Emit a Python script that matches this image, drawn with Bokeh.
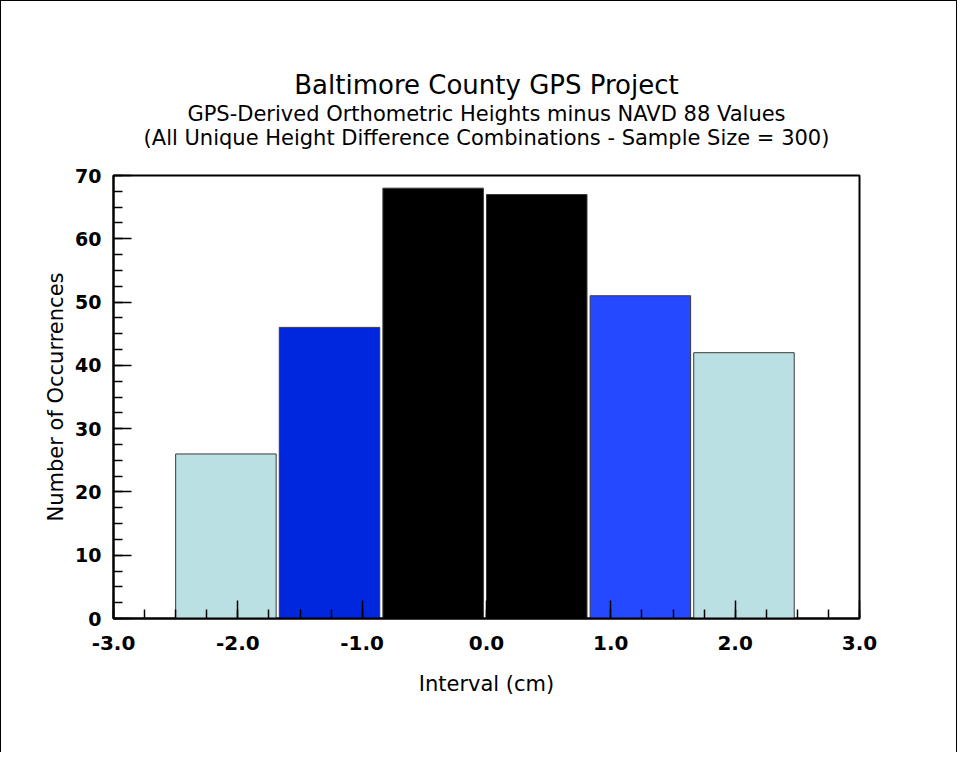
from bokeh.plotting import figure
from bokeh.models import Range1d, SingleIntervalTicker, PrintfTickFormatter, Title, ColumnDataSource
from bokeh.embed import file_html
from bokeh.resources import INLINE

# ---- data ----
bin_left = [-2.5, -5/3, -5/6, 0.0, 5/6, 5/3]
bin_width = 5/6
counts = [26, 46, 68, 67, 51, 42]
bar_colors = ["#BBE0E3", "#0027DD", "#000000", "#000000", "#2449FF", "#BBE0E3"]

title_main = "Baltimore County GPS Project"
title_sub1 = "GPS-Derived Orthometric Heights minus NAVD 88 Values"
title_sub2 = "(All Unique Height Difference Combinations - Sample Size = 300)"
x_label = "Interval (cm)"
y_label = "Number of Occurrences"

FONT = "DejaVu Sans"

src = ColumnDataSource(dict(
    left=bin_left,
    right=[b + bin_width * 0.97 for b in bin_left],
    top=counts,
    bottom=[0] * len(counts),
    color=bar_colors,
))

p = figure(width=957, height=752, output_backend="svg", toolbar_location=None,
           x_range=Range1d(-3, 3), y_range=Range1d(0, 70),
           min_border_left=112, min_border_right=99, min_border_top=174, min_border_bottom=135)

p.styles = {"border-left": "1px solid black", "border-top": "1px solid black",
            "border-right": "1px solid black"}

p.quad(left="left", right="right", top="top", bottom="bottom", fill_color="color",
       line_color="#3a3a3a", line_width=1, source=src)

p.grid.visible = False
p.outline_line_color = "black"
p.outline_line_width = 2

p.xaxis.ticker = SingleIntervalTicker(interval=1, num_minor_ticks=4)
p.yaxis.ticker = SingleIntervalTicker(interval=10, num_minor_ticks=4)
p.xaxis.formatter = PrintfTickFormatter(format="%.1f")

for ax in (p.xaxis[0], p.yaxis[0]):
    ax.axis_line_width = 2
    ax.axis_line_color = "black"
    ax.major_tick_in = 18
    ax.major_tick_out = 0
    ax.minor_tick_in = 9
    ax.minor_tick_out = 0
    ax.major_tick_line_width = 1.5
    ax.minor_tick_line_width = 1.5
    ax.major_tick_line_color = "black"
    ax.minor_tick_line_color = "black"
    ax.major_label_text_font = FONT
    ax.major_label_text_font_style = "bold"
    ax.major_label_text_color = "black"
    ax.axis_label_text_font = FONT
    ax.axis_label_text_font_size = "21px"
    ax.axis_label_text_font_style = "normal"
    ax.axis_label_text_color = "black"

p.xaxis.major_label_text_font_size = "20px"
p.yaxis.major_label_text_font_size = "19px"
p.xaxis.axis_label = x_label
p.yaxis.axis_label = y_label
p.xaxis.major_label_standoff = 17
p.yaxis.major_label_standoff = 12
p.xaxis.axis_label_standoff = 19
p.yaxis.axis_label_standoff = 4

# spacer between the frame and the title block
p.add_layout(Title(text=" ", text_font_size="20px", standoff=2, text_line_height=1.0), "above")
p.add_layout(Title(text=title_sub1 + "\n" + title_sub2, align="center", text_align="center",
                   text_font=FONT, text_font_size="21px", text_font_style="normal",
                   text_color="black", standoff=0, text_line_height=1.0), "above")
p.add_layout(Title(text=title_main, align="center", text_font=FONT, text_font_size="26px",
                   text_font_style="normal", text_color="black", standoff=0,
                   text_line_height=1.0), "above")

p.title.visible = False

open("out.html", "w").write(file_html(p, INLINE))
